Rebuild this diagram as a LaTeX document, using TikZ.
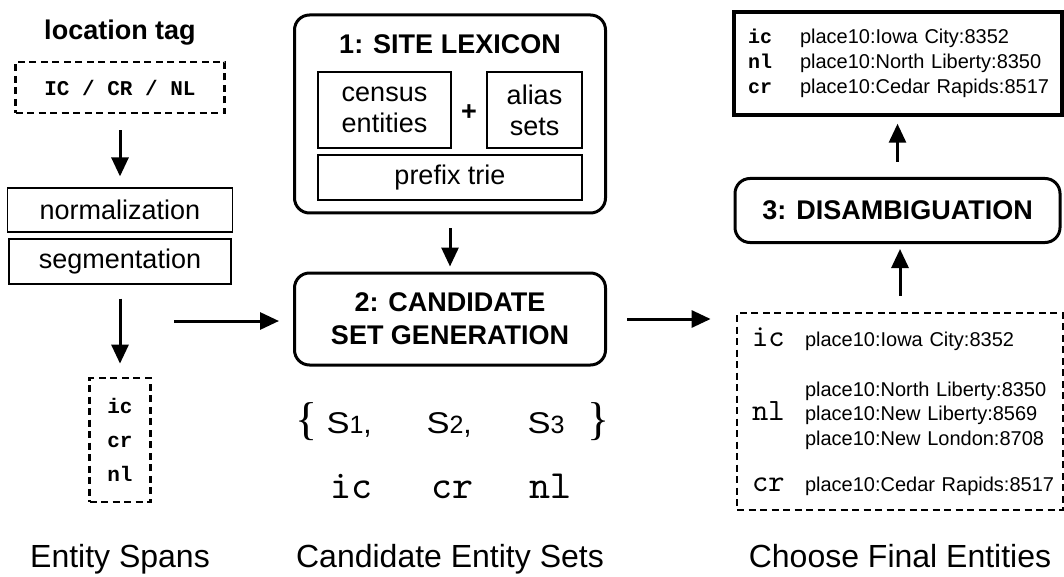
\documentclass[tikz,border=0pt]{standalone}
\usepackage{fontspec}
\setmainfont{Liberation Sans}
\setmonofont{Liberation Mono}
\newfontfamily\bracefont{Liberation Serif}
\newfontfamily\thinmono{lmmono10-regular.otf}
\usepackage{tikz}
\usetikzlibrary{arrows.meta}

\newcommand{\fsz}[1]{\fontsize{#1}{#1}\selectfont}
\newcommand{\frow}[2]{\mbox{\makebox[52pt][l]{\ttfamily\bfseries #1}#2}}
\newcommand{\crow}[2]{\mbox{\makebox[53pt][l]{\fsz{31}\thinmono #1}#2}}
\newcommand{\setname}[1]{\scalebox{1.15}[1]{\fsz{30}S}\fsz{25}#1}

\begin{document}
\begin{tikzpicture}[x=1pt,y=-1pt,>={Triangle[length=19pt,width=17pt]},line width=3pt]
      \tikzstyle{stage}=[draw,rounded corners=15pt,line width=3pt,align=center,font=\fsz{27}\bfseries]
      \tikzstyle{plain}=[draw,line width=1.2pt,font=\fsz{27},align=center]
      \tikzstyle{dashbox}=[draw,dash pattern=on 7pt off 4.5pt,line width=2.8pt]
      \tikzstyle{caption}=[font=\fsz{32},anchor=base]
      \tikzstyle{member}=[font=\fsz{40}\thinmono,anchor=base]
      \tikzstyle{brace}=[font=\bracefont\fsz{46},anchor=base west,inner sep=0pt]

      \useasboundingbox (0,0) rectangle (1064,577);

      % left column
      \node[font=\fsz{27}\bfseries,anchor=base]	(tag) at (120,40) {location tag};
      \node[dashbox,minimum width=209pt,minimum height=51pt,font=\fsz{21}\ttfamily\bfseries]	(tagbox) at (120,87.5) {IC / CR / NL};
      \node[plain,minimum width=225pt,minimum height=44pt]	(norm) at (120,210) {normalization};
      \node[plain,minimum width=222pt,minimum height=45pt]	(seg) at (120,261.5) {segmentation};
      \node[dashbox,minimum width=61pt,minimum height=124pt,align=center,font=\fontsize{21}{34}\selectfont\ttfamily\bfseries]	(spans) at (120,440) {ic\\cr\\nl};
      \node[caption]	(spanscap) at (120,567) {Entity Spans};
      \coordinate (feed) at (174,321);

      % middle column
      \node[stage,minimum width=311pt,minimum height=198pt]	(lex) at (450,114) {};
      \node[font=\fsz{27}\bfseries]	(lextitle) at (450,44) {1: SITE LEXICON};
      \node[plain,minimum width=133pt,minimum height=76pt,font=\fontsize{27}{31}\selectfont]	(census) at (384.5,110) {census\\entities};
      \node[plain,minimum width=95pt,minimum height=76pt,font=\fontsize{27}{31}\selectfont]	(alias) at (534.5,110) {alias\\sets};
      \node[font=\fsz{27}\bfseries]	(plus) at (469,113) {+};
      \node[plain,minimum width=264pt,minimum height=45pt]	(trie) at (450,177.5) {prefix trie};
      \node[stage,minimum width=311pt,minimum height=92pt,font=\fontsize{27}{33}\selectfont\bfseries]	(cand) at (450,319) {2: CANDIDATE\\SET GENERATION};

      \node[brace]	(lbrace) at (294,434) {\{};
      \node[anchor=base west,inner sep=0pt]	(s1) at (325,433) {\setname{1}\fsz{30},};
      \node[anchor=base west,inner sep=0pt]	(s2) at (425,433) {\setname{2}\fsz{30},};
      \node[anchor=base west,inner sep=0pt]	(s3) at (526,433) {\setname{3}};
      \node[brace]	(rbrace) at (586,434) {\}};
      \node[member]	(setic) at (351,498) {ic};
      \node[member]	(setcr) at (452,498) {cr};
      \node[member]	(setnl) at (550,498) {nl};
      \node[caption]	(candcap) at (450,567) {Candidate Entity Sets};

      % right column
      \node[draw,line width=3.5pt,minimum width=328pt,minimum height=103pt,text width=300pt,inner xsep=14pt,align=left,font=\fontsize{20}{25}\selectfont]	(final) at (898,63.5)
        {\frow{ic}{place10:Iowa City:8352}\\\frow{nl}{place10:North Liberty:8350}\\\frow{cr}{place10:Cedar Rapids:8517}};
      \node[stage,minimum width=325pt,minimum height=64pt]	(disamb) at (897.5,210.5) {3: DISAMBIGUATION};
      \node[dashbox,minimum width=326pt,minimum height=197pt,text width=296pt,inner xsep=15pt,align=left,font=\fontsize{20}{24.5}\selectfont]	(cands) at (900,411.5)
        {\crow{ic}{place10:Iowa City:8352}\\[25.5pt]
         \crow{}{place10:North Liberty:8350}\\
         \crow{nl}{place10:New Liberty:8569}\\
         \crow{}{place10:New London:8708}\\[21.5pt]
         \crow{cr}{place10:Cedar Rapids:8517}};
      \node[caption]	(finalcap) at (900,567) {Choose Final Entities};

      \draw[->,shorten <=16pt,shorten >=11pt] (tagbox) -- (norm);
      \draw[->,shorten <=14pt,shorten >=13pt] (seg) -- (spans);
      \draw[->,shorten >=14pt] (feed) -- (feed -| cand.west);
      \draw[->,shorten <=14pt,shorten >=5pt] (lex) -- (cand);
      \draw[->,shorten <=20pt,shorten >=25pt] (cand.east) -- (cand.east -| cands.west);
      \draw[->,shorten <=16pt,shorten >=5pt] (cands.north) -- (cands.north |- disamb.south);
      \draw[->,shorten <=15pt,shorten >=7pt] (disamb.north) -- (disamb.north |- final.south);

  \end{tikzpicture}
\end{document}
